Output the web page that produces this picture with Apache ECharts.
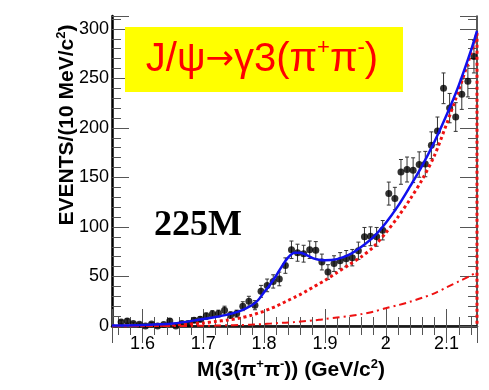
<!DOCTYPE html>
<html><head><meta charset="utf-8">
<script src="https://cdn.jsdelivr.net/npm/echarts@6/dist/echarts.min.js"></script>
<style>html,body{margin:0;padding:0;background:#fff}#c{width:489px;height:390px}</style>
</head><body><div id="c"></div>
<script>
// ---- data ----
const xBins = [1.565,1.575,1.585,1.595,1.605,1.615,1.625,1.635,1.645,1.655,
  1.665,1.675,1.685,1.695,1.705,1.715,1.725,1.735,1.745,1.755,
  1.765,1.775,1.785,1.795,1.805,1.815,1.825,1.835,1.845,1.855,
  1.865,1.875,1.885,1.895,1.905,1.915,1.925,1.935,1.945,1.955,
  1.965,1.975,1.985,1.995,2.005,2.015,2.025,2.035,2.045,2.055,
  2.065,2.075,2.085,2.095,2.105,2.115,2.125,2.135,2.145];
const counts = [4,5,2.4,1.7,0,2,0,1.4,5,0,
  2.4,2.4,5.8,6.8,10,12,12.5,16,11,12.5,
  20,25,21,35,41,45,47.5,61,77,74,
  73,77,76.5,64.6,54.5,63,66,68,69,76,
  90,90.6,90,96.7,133.7,128.7,155.6,158,157.3,163,
  163.5,182.5,197,240,220,211,234,247,272];
const errors = [2,2.2,1.5,1.3,1,1.4,1,1.2,2.2,1,
  1.5,1.5,2.4,2.6,3.2,3.5,3.5,4,3.3,3.5,
  4.5,5,4.6,6,6.4,6.7,6.9,7.8,8.8,8.6,
  8.5,8.8,8.7,8,7.4,7.9,8.1,8.2,8.3,8.7,
  9.5,9.5,9.5,9.8,11.6,11.3,12.5,12.6,12.5,12.8,
  12.8,13.5,14,15.5,14.8,14.5,15.3,15.7,16.5];
const curveX    = [1.55,1.6,1.65,1.7,1.72,1.74,1.76,1.78,1.79,1.8,1.81,1.82,1.83,1.84,1.85,1.86,1.87,1.88,1.89,1.9,1.92,1.94,1.96,1.98,2.0,2.02,2.04,2.06,2.08,2.1,2.12,2.14,2.15];
const totalFit  = [0.5,1,2.5,7,9,11.5,15,21,26,34,42,51,61,69.5,74,74,71.5,68.5,66.8,66.3,67.5,72,80,90,104,121,141,162,186,213,243,278,298];
const bgPoly    = [0,0.3,1,3,4.5,6,8,11,13,15,17.5,20,23,26,29,32,35.5,39,42.5,46,54,62,70,80,94,110,128,148,172,204,238,275,296];
const bgDashDot = [0,0,0,0.2,0.4,0.7,1,1.4,1.7,2,2.4,2.8,3.2,3.6,4,4.5,5,5.6,6.2,7,8.5,10,12,14.5,18,21,24.5,28.5,33,39,45,51,55];
const xTickLabels = ['1.6','1.7','1.8','1.9','2','2.1'];
const yTickLabels = ['0','50','100','150','200','250','300'];

const FONT = "'Liberation Sans', Arial, sans-serif";
const chart = echarts.init(document.getElementById('c'), null, {renderer:'canvas'});

function tickAxisCommon(){
  return {
    axisTick:{show:true, inside:true, length:17, lineStyle:{color:'#555', width:1}},
    minorTick:{show:true, splitNumber:5, length:9, lineStyle:{color:'#555', width:1}},
    splitLine:{show:false}, minorSplitLine:{show:false}
  };
}
const errData = xBins.map((x,i)=>[x, counts[i], errors[i]]);
const ptData  = xBins.map((x,i)=>[x, counts[i]]);
const zip = arr => curveX.map((x,i)=>[x, arr[i]]);
const lastX = curveX[curveX.length-1];

chart.setOption({
  animation:false,
  backgroundColor:'#fff',
  grid:{left:112, top:16, right:12, bottom:64, containLabel:false},
  xAxis:[
    Object.assign(tickAxisCommon(), {type:'value', min:1.55, max:2.15, splitNumber:6, position:'bottom',
      axisLine:{show:true, lineStyle:{color:'#000', width:2.5}},
      axisLabel:{show:true, margin:9, color:'#000', fontSize:18, fontFamily:FONT,
        formatter:v=>{const s=String(+(+v).toFixed(3)); return xTickLabels.indexOf(s)>=0?s:'';}}}),
    Object.assign(tickAxisCommon(), {type:'value', min:1.55, max:2.15, splitNumber:6, position:'top',
      axisLine:{show:true, lineStyle:{color:'#222', width:1.5}}, axisLabel:{show:false}})
  ],
  yAxis:[
    Object.assign(tickAxisCommon(), {type:'value', min:0, max:313, interval:50, position:'left',
      axisLine:{show:true, lineStyle:{color:'#000', width:2.5}},
      axisLabel:{show:true, margin:3, color:'#000', fontSize:18, fontFamily:FONT,
        formatter:v=>{const s=String(Math.round(v)); return yTickLabels.indexOf(s)>=0?s:'';}}}),
    Object.assign(tickAxisCommon(), {type:'value', min:0, max:313, interval:50, position:'right',
      axisLine:{show:true, lineStyle:{color:'#222', width:1.5}}, axisLabel:{show:false}})
  ],
  series:[
    {type:'custom', data:errData, encode:{x:0,y:1}, z:3, clip:true,
      renderItem:function(params, api){
        const x=api.value(0), y=api.value(1), e=api.value(2);
        const t=api.coord([x,y+e]), b=api.coord([x,Math.max(0,y-e)]);
        const c=2, st={stroke:'#333', lineWidth:1};
        return {type:'group', children:[
          {type:'line', shape:{x1:t[0],y1:t[1],x2:b[0],y2:b[1]}, style:st},
          {type:'line', shape:{x1:t[0]-c,y1:t[1],x2:t[0]+c,y2:t[1]}, style:st},
          {type:'line', shape:{x1:b[0]-c,y1:b[1],x2:b[0]+c,y2:b[1]}, style:st}
        ]};
      }},
    {type:'scatter', data:ptData, symbol:'circle', symbolSize:7, z:4,
      itemStyle:{color:'#000'}},
    {type:'line', data:zip(bgDashDot), smooth:0.3, showSymbol:false, z:5,
      lineStyle:{color:'#ee1111', width:2, type:[7,4,2,4]}},
    {type:'line', data:zip(bgPoly), smooth:0.3, showSymbol:false, z:5,
      lineStyle:{color:'#ee1111', width:3, type:[3,3]}},
    {type:'line', data:[[lastX, bgPoly[bgPoly.length-1]],[lastX,0]], showSymbol:false, z:6, clip:false,
      lineStyle:{color:'#ee1111', width:3, type:[3,3]}},
    {type:'line', data:zip(totalFit), smooth:0.3, showSymbol:false, z:6,
      lineStyle:{color:'#1010ee', width:2.5}}
  ],
  graphic:[
    {type:'rect', shape:{x:125, y:27, width:278, height:65}, style:{fill:'#ffff00'}, z:10},
    {type:'text', x:262, y:60, z:11, style:{
      text:'{a|J/ψ}{r|→}{a|γ3(π}{s|+}{a|π}{s|-}{a|)}', align:'center', verticalAlign:'middle',
      rich:{a:{fontSize:40, fontFamily:FONT, fill:'#ff0000', lineHeight:46},
            r:{fontSize:34, fontFamily:"'DejaVu Sans', sans-serif", fill:'#ff0000', lineHeight:46},
            s:{fontSize:22, fontFamily:FONT, fill:'#ff0000', verticalAlign:'top', lineHeight:22}}}},
    {type:'text', x:198, y:226, z:11, style:{text:'225M', fontSize:36, fontWeight:'bold',
      fontFamily:"'Liberation Serif','Times New Roman',serif", fill:'#000', align:'center', verticalAlign:'middle'}},
    {type:'text', x:67, y:125, rotation:Math.PI/2, z:11, style:{
      text:'{a|EVENTS/(10 MeV/c}{s|2}{a|)}', align:'center', verticalAlign:'middle',
      rich:{a:{fontSize:21, fontWeight:'bold', fontFamily:FONT, fill:'#000', lineHeight:24},
            s:{fontSize:13, fontWeight:'bold', fontFamily:FONT, fill:'#000', verticalAlign:'top', lineHeight:13}}}},
    {type:'text', x:291, y:370, z:11, style:{
      text:'{a|M(3(π}{s|+}{a|π}{s|-}{a|)) (GeV/c}{s|2}{a|)}', align:'center', verticalAlign:'middle',
      rich:{a:{fontSize:21, fontWeight:'bold', fontFamily:FONT, fill:'#000', lineHeight:24},
            s:{fontSize:13, fontWeight:'bold', fontFamily:FONT, fill:'#000', verticalAlign:'top', lineHeight:13}}}}
  ]
});
</script></body></html>
